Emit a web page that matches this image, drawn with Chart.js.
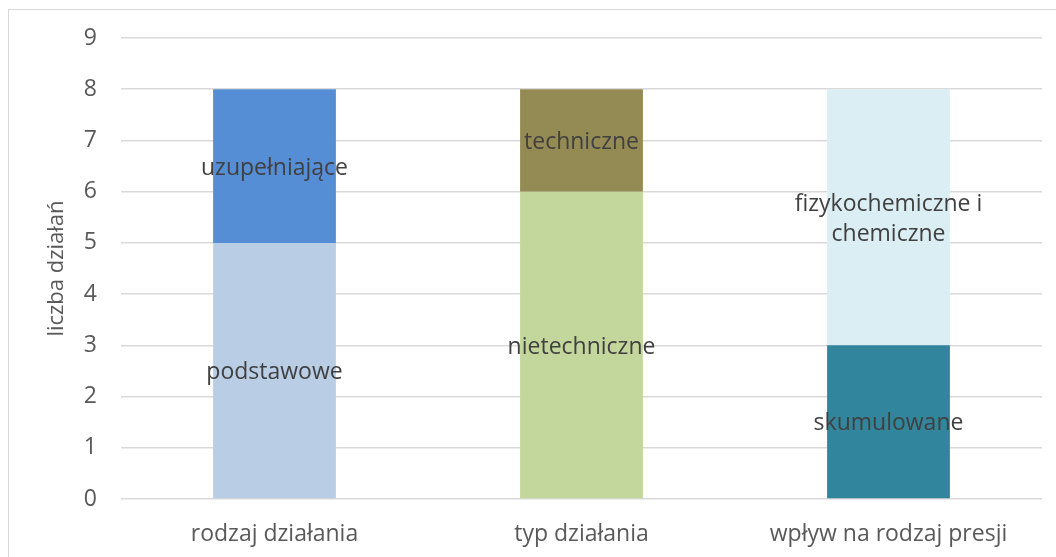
<!DOCTYPE html>
<html>
<head>
<meta charset="utf-8">
<script src="https://cdn.jsdelivr.net/npm/chart.js@4"></script>
<style>
  html, body { margin: 0; padding: 0; background: #fff; }
  #wrap { position: relative; width: 1056px; height: 557px; overflow: hidden; }
  #frame { position: absolute; left: 8px; top: 9px; width: 1100px; height: 600px; border: 1px solid #d9d9d9; box-sizing: border-box; }
  canvas { position: absolute; left: 0; top: 0; }
</style>
</head>
<body>
<div id="wrap">
  <div id="frame"></div>
  <canvas id="myChart" width="1056" height="557"></canvas>
</div>
<script>
// Chart data
let categories = ['rodzaj działania', 'typ działania', 'wpływ na rodzaj presji'];
let lowerValues = [5, 6, 3];
let upperValues = [3, 2, 5];
let lowerNames = ['podstawowe', 'nietechniczne', 'skumulowane'];
let upperNames = [['uzupełniające'], ['techniczne'], ['fizykochemiczne i', 'chemiczne']];
let lowerColors = ['#b9cde5', '#c3d69b', '#31859c'];
let upperColors = ['#558ed5', '#948a54', '#dbeef4'];
let yTicks = [0, 1, 2, 3, 4, 5, 6, 7, 8, 9];

let fontFamily = "'Open Sans', sans-serif";

// writes the segment name in the middle of each bar piece
let segmentLabels = {
  id: 'segmentLabels',
  afterDatasetsDraw(chart) {
    let ctx = chart.ctx;
    ctx.save();
    ctx.fillStyle = '#404040';
    ctx.font = '23px ' + fontFamily;
    ctx.textAlign = 'center';
    ctx.textBaseline = 'middle';
    chart.data.datasets.forEach((ds, i) => {
      chart.getDatasetMeta(i).data.forEach((bar, j) => {
        let lines = [].concat(ds.names[j]);
        let mid = (bar.y + bar.base) / 2 + 2;
        let lh = 30;
        lines.forEach((t, k) => {
          ctx.fillText(t, bar.x, mid + (k - (lines.length - 1) / 2) * lh);
        });
      });
    });
    ctx.restore();
  }
};

var ctx = document.getElementById('myChart').getContext('2d');
var myChart = new Chart(ctx, {
  type: 'bar',
  data: {
    labels: categories,
    datasets: [
      {
        data: lowerValues,
        names: lowerNames,
        backgroundColor: lowerColors,
        categoryPercentage: 1,
        barPercentage: 0.4
      },
      {
        data: upperValues,
        names: upperNames,
        backgroundColor: upperColors,
        categoryPercentage: 1,
        barPercentage: 0.4
      }
    ]
  },
  options: {
    responsive: false,
    animation: false,
    layout: { padding: { top: 38, right: 14, bottom: 0, left: 0 } },
    plugins: { legend: { display: false }, tooltip: { enabled: false } },
    scales: {
      x: {
        stacked: true,
        grid: { display: false },
        border: { display: false },
        ticks: { color: '#595959', font: { family: fontFamily, size: 23 }, padding: 14 },
        afterFit: s => { s.height = 58; }
      },
      y: {
        stacked: true,
        min: 0,
        max: 9,
        afterBuildTicks: s => { s.ticks = yTicks.map(v => ({ value: v })); },
        grid: { color: '#d9d9d9', lineWidth: 1.5, drawTicks: false },
        border: { display: false },
        ticks: { color: '#595959', font: { family: fontFamily, size: 23 }, padding: 24 },
        title: { display: true, text: 'liczba działań', color: '#595959', font: { family: fontFamily, size: 22 }, padding: { top: 44, bottom: 0 } },
        afterFit: s => { s.width = 121; }
      }
    }
  },
  plugins: [segmentLabels]
});
</script>
</body>
</html>
